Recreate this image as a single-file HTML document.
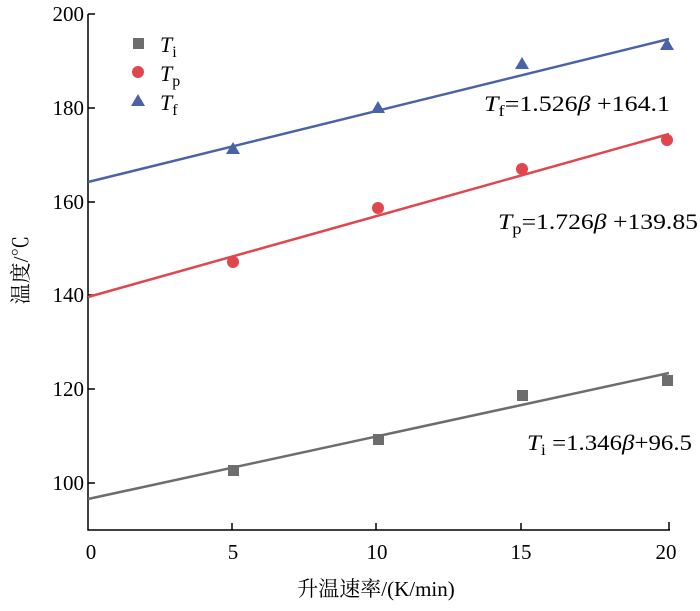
<!DOCTYPE html>
<html><head><meta charset="utf-8"><style>body{margin:0;background:#fff}</style></head><body>
<svg width="700" height="606" xmlns="http://www.w3.org/2000/svg" font-family="'Liberation Serif','Noto Serif CJK SC',serif" font-size="21">
<rect width="700" height="606" fill="#fff"/>
<g stroke="#000" stroke-width="1.5" fill="none">
<path d="M88,14V530H670"/>
<path d="M88,14h7M88,108h7M88,202h7M88,295h7M88,389h7M88,483h7"/>
<path d="M232,530v-7M376,530v-7M521,530v-7M669,530v-8"/>
</g>
<g text-anchor="end">
<text x="84" y="21">200</text><text x="84" y="115">180</text><text x="84" y="209">160</text><text x="84" y="302">140</text><text x="84" y="396">120</text><text x="84" y="490">100</text>
</g>
<g text-anchor="middle">
<text x="91" y="559">0</text><text x="233" y="559">5</text><text x="377" y="559">10</text><text x="521" y="559">15</text><text x="666" y="559">20</text>
<text x="376" y="596">升温速率/(K/min)</text>
</g>
<text transform="translate(28,270) rotate(-90)" text-anchor="middle">温度/℃</text>
<line x1="88" y1="499" x2="669" y2="373" stroke="#6d6d6d" stroke-width="2.5"/>
<line x1="88" y1="297" x2="669" y2="134" stroke="#e0464e" stroke-width="2.5"/>
<line x1="88" y1="182" x2="669" y2="39" stroke="#4a62a8" stroke-width="2.5"/>
<g fill="#6d6d6d">
<rect x="228" y="465" width="11" height="11"/><rect x="373" y="434" width="11" height="11"/><rect x="517" y="390" width="11" height="11"/><rect x="662" y="375" width="11" height="11"/>
<rect x="133" y="38" width="11" height="11"/>
</g>
<g fill="#e0464e">
<circle cx="233" cy="262" r="6"/><circle cx="378" cy="208" r="6"/><circle cx="522" cy="169" r="6"/><circle cx="667" cy="140" r="6"/>
<circle cx="138" cy="72" r="6"/>
</g>
<g fill="#4a62a8">
<path d="M233,142l7,12h-14z"/><path d="M378,101l7,12h-14z"/><path d="M522,57l7,12h-14z"/><path d="M667,38l7,12h-14z"/>
<path d="M138,94l7,12h-14z"/>
</g>
<g font-size="22">
<text x="160" y="52"><tspan font-style="italic">T</tspan><tspan font-size="16" dy="5">i</tspan></text>
<text x="160" y="81"><tspan font-style="italic">T</tspan><tspan font-size="16" dy="5">p</tspan></text>
<text x="160" y="110"><tspan font-style="italic">T</tspan><tspan font-size="16" dy="5">f</tspan></text>
<text x="484" y="111" textLength="186" lengthAdjust="spacingAndGlyphs"><tspan font-style="italic">T</tspan><tspan font-size="16" dy="5">f</tspan><tspan dy="-5">=1.526</tspan><tspan font-style="italic">β</tspan> +164.1</text>
<text x="498" y="229" textLength="200" lengthAdjust="spacingAndGlyphs"><tspan font-style="italic">T</tspan><tspan font-size="16" dy="5">p</tspan><tspan dy="-5">=1.726</tspan><tspan font-style="italic">β</tspan> +139.85</text>
<text x="527" y="450" textLength="165" lengthAdjust="spacingAndGlyphs"><tspan font-style="italic">T</tspan><tspan font-size="16" dy="5">i</tspan><tspan dy="-5"> =1.346</tspan><tspan font-style="italic">β</tspan>+96.5</text>
</g>
</svg>
</body></html>
